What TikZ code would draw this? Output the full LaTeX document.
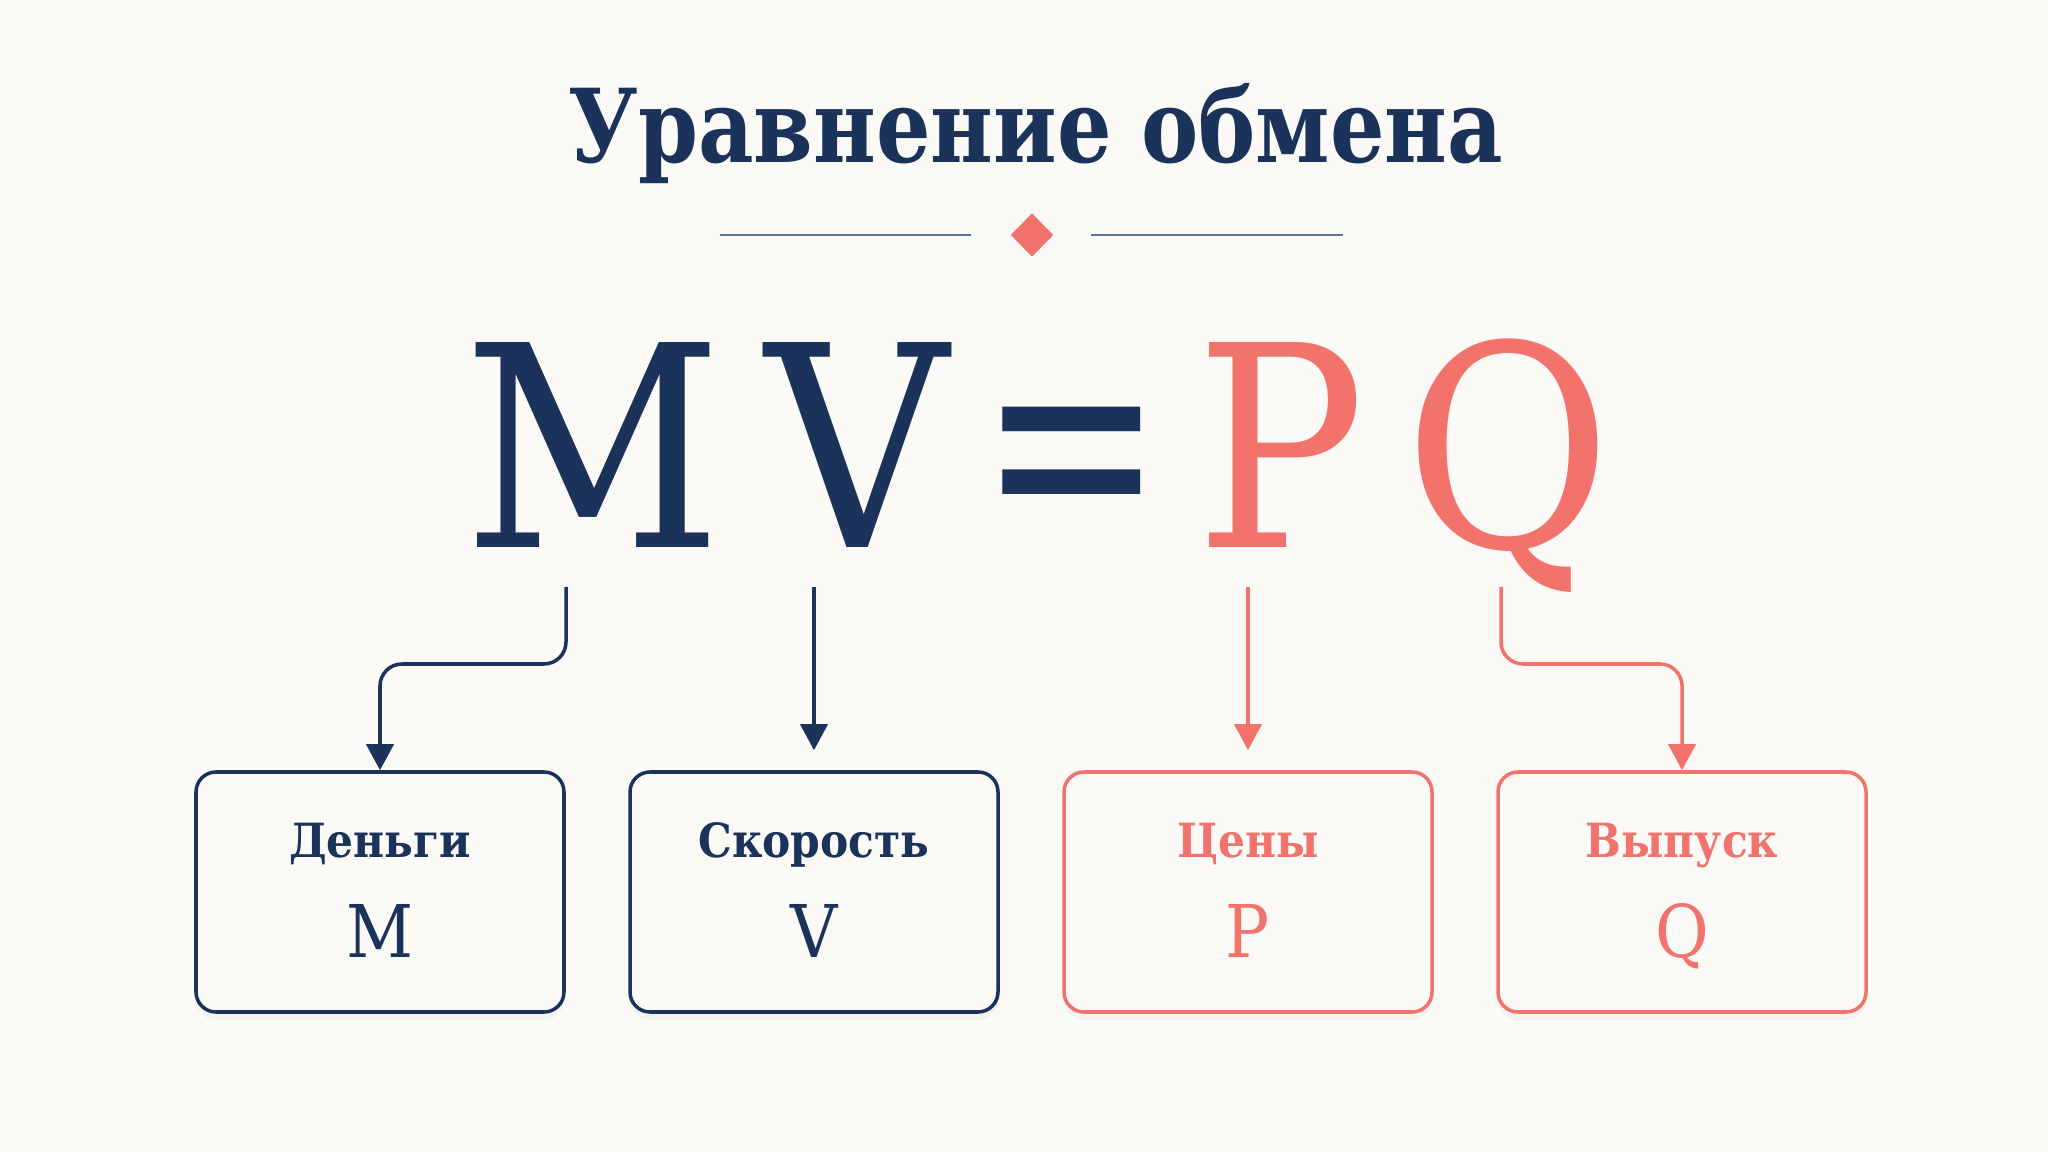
\documentclass[tikz,border=0pt]{standalone}
\usepackage{fontspec}
\setmainfont{DejaVu Serif Condensed}
\usetikzlibrary{arrows.meta,shadows,shapes.geometric}

\definecolor{navy}{HTML}{1B335B}
\definecolor{coral}{HTML}{F2736B}
\definecolor{rulecol}{HTML}{5F7397}
\definecolor{bgcol}{HTML}{FBFAF7}

\begin{document}
\begin{tikzpicture}[x=0.1mm, y=-0.1mm,
    big/.style={inner sep=0, anchor=base, font=\fontsize{80}{84}\selectfont},
    card/.style={line width=1pt, rounded corners=2mm, fill=bgcol,
      minimum width=36.8mm, minimum height=24mm,
      drop shadow={shadow xshift=0mm, shadow yshift=-0.8mm, opacity=0.06}},
    lab/.style={inner sep=0, anchor=base, font=\fontsize{13.4}{16}\selectfont\bfseries},
    sym/.style={inner sep=0, anchor=base, font=\fontsize{20.7}{24}\selectfont},
    conn/.style={line width=1pt, rounded corners=2.2mm,
      -{Triangle[width=7.7pt, length=7.4pt, sharp]}}]

      \fill[bgcol] (0,0) rectangle (2048,1152);
      \useasboundingbox (0,0) rectangle (2048,1152);

      % heading
      \node[navy, inner sep=0, anchor=base, font=\fontsize{29}{34}\selectfont\bfseries]
        (title) at (1036,163) {\scalebox{0.935}[1]{Уравнение обмена}};
      \node[fill=coral, diamond, inner sep=0, minimum width=4.3mm, minimum height=4.4mm]
        (gem) at (1032,235) {};
      \draw[rulecol, line width=0.7pt] (720,235) -- (971,235) (1091,235) -- (1343,235);

      % equation
      \node[big, navy] (bigM) at (593,548) {M};
      \node[big, navy] (bigV) at (857,548) {V};
      \node[big, navy] (eq) at (1072,550) {\scalebox{0.87}[1.12]{=}};
      \node[big, coral] (bigP) at (1281,548) {P};
      \node[big, coral] (bigQ) at (1508,548) {Q};

      % cards
      \node[card, draw=navy] (money) at (380,892) {};
      \node[card, draw=navy] (speed) at (814,892) {};
      \node[card, draw=coral] (price) at (1248,892) {};
      \node[card, draw=coral] (output) at (1682,892) {};

      \node[lab, navy] (moneylab) at (380,858) {Деньги};
      \node[sym, navy] (moneysym) at (380,958) {M};
      \node[lab, navy] (speedlab) at (814,858) {Скорость};
      \node[sym, navy] (speedsym) at (814,958) {V};
      \node[lab, coral] (pricelab) at (1248,858) {Цены};
      \node[sym, coral] (pricesym) at (1248,958) {P};
      \node[lab, coral] (outputlab) at (1682,858) {Выпуск};
      \node[sym, coral] (outputsym) at (1682,958) {Q};

      % connectors
      \coordinate (mfoot) at (566,587);
      \coordinate (vfoot) at (814,587);
      \coordinate (pfoot) at (1248,587);
      \coordinate (qfoot) at (1501,587);

      \draw[conn, navy] (mfoot) -- (566,664) -| (money.north);
      \draw[conn, navy, shorten >=5.7pt] (vfoot) -- (speed.north);
      \draw[conn, coral, shorten >=5.7pt] (pfoot) -- (price.north);
      \draw[conn, coral] (qfoot) -- (1501,664) -| (output.north);
    \end{tikzpicture}
\end{document}
